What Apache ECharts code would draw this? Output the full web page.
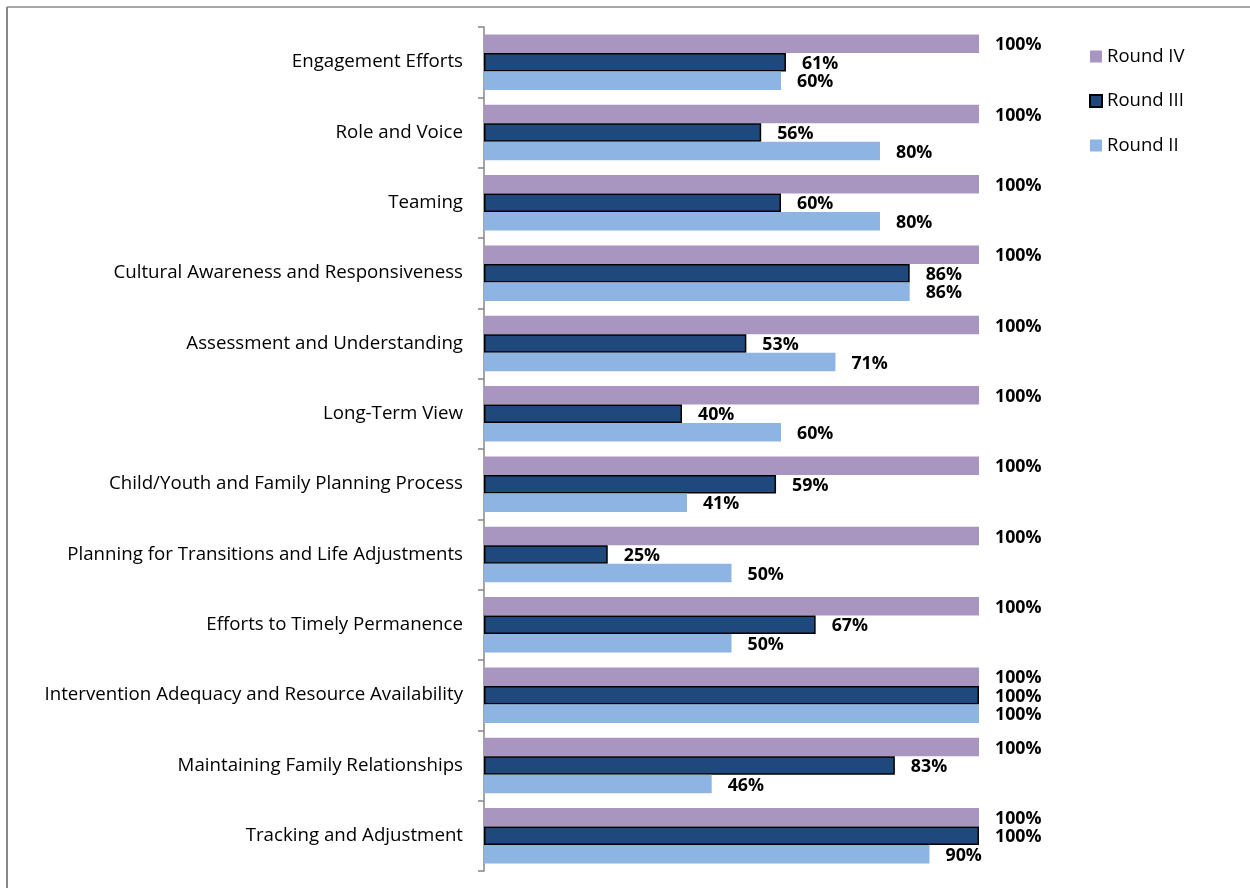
<!DOCTYPE html>
<html><head><meta charset="utf-8">
<script src="https://cdn.jsdelivr.net/npm/echarts@6/dist/echarts.min.js"></script>
<style>html,body{margin:0;padding:0;background:#fff}#c{width:1250px;height:888px}</style>
</head><body><div id="c"></div>
<script>
const categories = ["Engagement Efforts","Role and Voice","Teaming","Cultural Awareness and Responsiveness","Assessment and Understanding","Long-Term View","Child/Youth and Family Planning Process","Planning for Transitions and Life Adjustments","Efforts to Timely Permanence","Intervention Adequacy and Resource Availability","Maintaining Family Relationships","Tracking and Adjustment"];
const roundIV  = [100,100,100,100,100,100,100,100,100,100,100,100];
const roundIII = [61,56,60,86,53,40,59,25,67,100,83,100];
const roundII  = [60,80,80,86,71,60,41,50,50,100,46,90];
const seriesNames = ["Round IV","Round III","Round II"];

const FONT = "Open Sans";
const chart = echarts.init(document.getElementById('c'));
const lbl = {show:true, position:'right', distance:16, offset:[0,1.5], formatter:'{c}%', fontFamily:FONT, fontWeight:'bold', fontSize:17.8, color:'#000'};
chart.setOption({
  animation:false,
  textStyle:{fontFamily:FONT},
  graphic:[
    {type:'line', shape:{x1:7,y1:7,x2:1250,y2:7}, style:{stroke:'#888',lineWidth:1.5}},
    {type:'line', shape:{x1:7,y1:7,x2:7,y2:888}, style:{stroke:'#888',lineWidth:2}}
  ],
  grid:{left:484, right:271, top:27, bottom:17, containLabel:false},
  legend:{
    data:seriesNames, orient:'vertical', left:1084, top:42, itemGap:25.5,
    itemWidth:12, itemHeight:12, icon:'rect',
    textStyle:{fontFamily:FONT, fontSize:18.5, color:'#000'}
  },
  xAxis:{type:'value', min:0, max:100, show:false},
  yAxis:{type:'category', data:categories, inverse:true,
    axisLine:{lineStyle:{color:'#868686', width:1.5}},
    axisTick:{show:true, length:6, lineStyle:{color:'#868686', width:1.5}},
    axisLabel:{fontFamily:FONT, fontSize:18.7, color:'#000', margin:21}
  },
  series:[
    {name:seriesNames[0], type:'bar', data:roundIV, barWidth:18.5, barGap:'0%', itemStyle:{color:'#A896C1'}, label:lbl},
    {name:seriesNames[1], type:'bar', data:roundIII, barWidth:18.5, barGap:'0%', itemStyle:{color:'#1F497D', borderColor:'#000', borderWidth:1.5}, label:lbl},
    {name:seriesNames[2], type:'bar', data:roundII, barWidth:18.5, barGap:'0%', itemStyle:{color:'#8EB4E3'}, label:lbl}
  ]
});
</script></body></html>
